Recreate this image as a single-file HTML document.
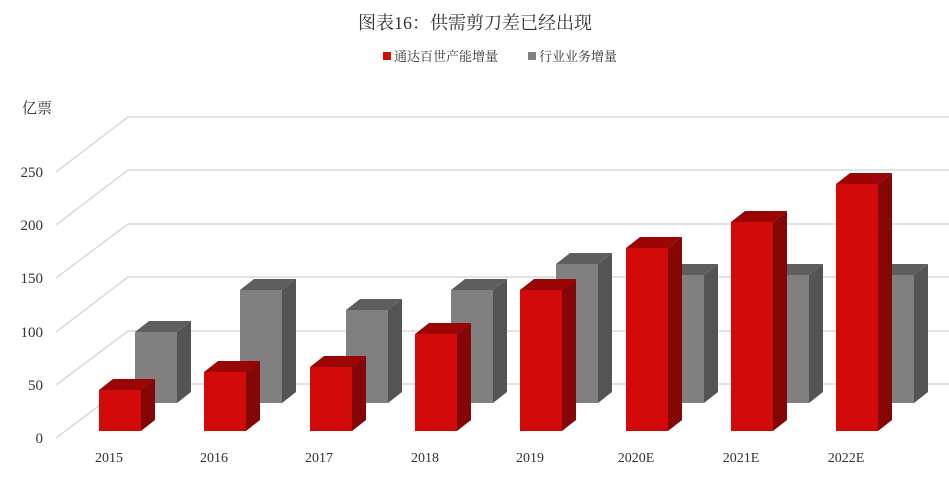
<!DOCTYPE html>
<html><head><meta charset="utf-8"><style>
html,body{margin:0;padding:0;background:#fff;}
svg{display:block;}
text{font-family:"Liberation Serif","Noto Serif CJK SC",serif;fill:#333;}
</style></head><body>
<svg width="949" height="496" viewBox="0 0 949 496" xmlns="http://www.w3.org/2000/svg">
<text x="475" y="29" font-size="18" text-anchor="middle" fill="#222">图表16：供需剪刀差已经出现</text>
<rect x="383" y="52" width="8" height="8" fill="#d20a0a"/>
<text x="394" y="61" font-size="13">通达百世产能增量</text>
<rect x="528" y="52" width="8" height="8" fill="#808080"/>
<text x="539" y="61" font-size="13">行业业务增量</text>
<text x="22" y="113" font-size="15">亿票</text>
<g stroke="#d9d9d9" stroke-width="1.5" fill="none">
<polyline points="56,438 128,384 949,384"/>
<polyline points="56,385 128,331 949,331"/>
<polyline points="56,332 128,277 949,277"/>
<polyline points="56,278 128,224 949,224"/>
<polyline points="56,225 128,170 949,170"/>
<polyline points="56,172 128,117 949,117"/>
</g>
<g font-size="15" text-anchor="end">
<text x="43" y="443">0</text>
<text x="43" y="390">50</text>
<text x="43" y="337">100</text>
<text x="43" y="283">150</text>
<text x="43" y="230">200</text>
<text x="43" y="177">250</text>
</g>
<g font-size="14" text-anchor="middle">
<text x="109" y="462">2015</text><text x="214" y="462">2016</text><text x="319" y="462">2017</text><text x="425" y="462">2018</text>
<text x="530" y="462">2019</text><text x="636" y="462">2020E</text><text x="741" y="462">2021E</text><text x="846" y="462">2022E</text>
</g>
<!-- gray bars -->
<g transform="translate(135,0)"><polygon points="0,332 14,321 56,321 42,332" fill="#5e5e5e"/><polygon points="42,332 56,321 56,392 42,403" fill="#545454"/><rect x="0" y="332" width="42" height="71" fill="#808080"/></g>
<g transform="translate(240,0)"><polygon points="0,290 14,279 56,279 42,290" fill="#5e5e5e"/><polygon points="42,290 56,279 56,392 42,403" fill="#545454"/><rect x="0" y="290" width="42" height="113" fill="#808080"/></g>
<g transform="translate(346,0)"><polygon points="0,310 14,299 56,299 42,310" fill="#5e5e5e"/><polygon points="42,310 56,299 56,392 42,403" fill="#545454"/><rect x="0" y="310" width="42" height="93" fill="#808080"/></g>
<g transform="translate(451,0)"><polygon points="0,290 14,279 56,279 42,290" fill="#5e5e5e"/><polygon points="42,290 56,279 56,392 42,403" fill="#545454"/><rect x="0" y="290" width="42" height="113" fill="#808080"/></g>
<g transform="translate(556,0)"><polygon points="0,264 14,253 56,253 42,264" fill="#5e5e5e"/><polygon points="42,264 56,253 56,392 42,403" fill="#545454"/><rect x="0" y="264" width="42" height="139" fill="#808080"/></g>
<g transform="translate(662,0)"><polygon points="0,275 14,264 56,264 42,275" fill="#5e5e5e"/><polygon points="42,275 56,264 56,392 42,403" fill="#545454"/><rect x="0" y="275" width="42" height="128" fill="#808080"/></g>
<g transform="translate(767,0)"><polygon points="0,275 14,264 56,264 42,275" fill="#5e5e5e"/><polygon points="42,275 56,264 56,392 42,403" fill="#545454"/><rect x="0" y="275" width="42" height="128" fill="#808080"/></g>
<g transform="translate(872,0)"><polygon points="0,275 14,264 56,264 42,275" fill="#5e5e5e"/><polygon points="42,275 56,264 56,392 42,403" fill="#545454"/><rect x="0" y="275" width="42" height="128" fill="#808080"/></g>
<!-- red bars -->
<g transform="translate(99,0)"><polygon points="0,390 14,379 56,379 42,390" fill="#9c0505"/><polygon points="42,390 56,379 56,420 42,431" fill="#850606"/><rect x="0" y="390" width="42" height="41" fill="#d20a0a"/></g>
<g transform="translate(204,0)"><polygon points="0,372 14,361 56,361 42,372" fill="#9c0505"/><polygon points="42,372 56,361 56,420 42,431" fill="#850606"/><rect x="0" y="372" width="42" height="59" fill="#d20a0a"/></g>
<g transform="translate(310,0)"><polygon points="0,367 14,356 56,356 42,367" fill="#9c0505"/><polygon points="42,367 56,356 56,420 42,431" fill="#850606"/><rect x="0" y="367" width="42" height="64" fill="#d20a0a"/></g>
<g transform="translate(415,0)"><polygon points="0,334 14,323 56,323 42,334" fill="#9c0505"/><polygon points="42,334 56,323 56,420 42,431" fill="#850606"/><rect x="0" y="334" width="42" height="97" fill="#d20a0a"/></g>
<g transform="translate(520,0)"><polygon points="0,290 14,279 56,279 42,290" fill="#9c0505"/><polygon points="42,290 56,279 56,420 42,431" fill="#850606"/><rect x="0" y="290" width="42" height="141" fill="#d20a0a"/></g>
<g transform="translate(626,0)"><polygon points="0,248 14,237 56,237 42,248" fill="#9c0505"/><polygon points="42,248 56,237 56,420 42,431" fill="#850606"/><rect x="0" y="248" width="42" height="183" fill="#d20a0a"/></g>
<g transform="translate(731,0)"><polygon points="0,222 14,211 56,211 42,222" fill="#9c0505"/><polygon points="42,222 56,211 56,420 42,431" fill="#850606"/><rect x="0" y="222" width="42" height="209" fill="#d20a0a"/></g>
<g transform="translate(836,0)"><polygon points="0,184 14,173 56,173 42,184" fill="#9c0505"/><polygon points="42,184 56,173 56,420 42,431" fill="#850606"/><rect x="0" y="184" width="42" height="247" fill="#d20a0a"/></g>
</svg>
</body></html>
